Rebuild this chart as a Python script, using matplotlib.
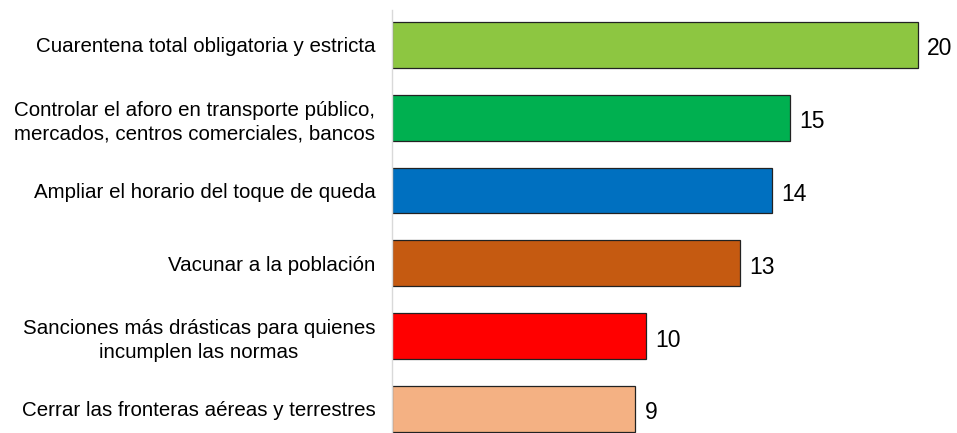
import matplotlib.pyplot as plt

plt.rcParams['font.family'] = ['Liberation Sans', 'DejaVu Sans']

categories = [
    "Cuarentena total obligatoria y estricta",
    "Controlar el aforo en transporte público,\nmercados, centros comerciales, bancos",
    "Ampliar el horario del toque de queda",
    "Vacunar a la población",
    "Sanciones más drásticas para quienes\nincumplen las normas",
    "Cerrar las fronteras aéreas y terrestres",
]
values = [20.0, 15.15, 14.45, 13.25, 9.65, 9.25]
colors = ["#8DC641", "#00B050", "#0070C0", "#C55A11", "#FF0000", "#F4B183"]

fig = plt.figure(figsize=(9.57, 4.33), dpi=100)
ax = fig.add_axes([392 / 957, 0, 1 - 392 / 957, 423 / 433])

pos = range(len(categories))
ax.barh(pos, values, height=0.63, color=colors, edgecolor="#222222", linewidth=0.9)

for p, v in zip(pos, values):
    ax.text(v + 0.35, p + 0.02, f"{v:.0f}", va="center_baseline", ha="left", fontsize=16.5)

ax.set_yticks(list(pos))
ax.set_yticklabels(categories, fontsize=14.8, multialignment="center", linespacing=1.3)
ax.tick_params(axis="y", length=0, pad=12)
ax.set_xticks([])
ax.set_ylim(5.33, -0.48)
ax.set_xlim(0, 565 / 26.3)

for s in ["top", "right", "bottom"]:
    ax.spines[s].set_visible(False)
ax.spines["left"].set_color("#d9d9d9")
ax.spines["left"].set_linewidth(1)

fig.savefig("out.png", dpi=100)
